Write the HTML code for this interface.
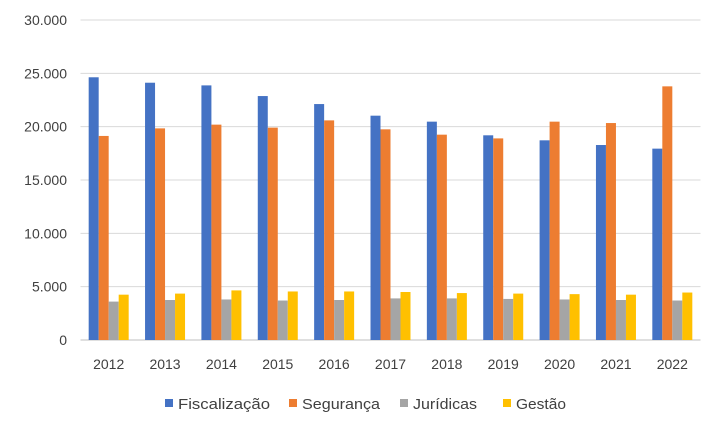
<!DOCTYPE html>
<html><head><meta charset="utf-8"><style>
body{margin:0;background:#fff;}
svg{display:block;font-family:"Liberation Sans",sans-serif;}
</style></head><body>
<svg id="chart" width="709" height="426"></svg>
<script>
const years=["2012","2013","2014","2015","2016","2017","2018","2019","2020","2021","2022"];
const fiscalizacao=[24630,24120,23870,22870,22120,21030,20470,19190,18720,18280,17940];
const seguranca=[19130,19840,20190,19910,20590,19750,19250,18900,20470,20340,23780];
const juridicas=[3600,3750,3800,3700,3750,3900,3900,3850,3800,3750,3700];
const gestao=[4250,4350,4650,4550,4550,4500,4400,4350,4300,4250,4450];
const yTicks=[0,5000,10000,15000,20000,25000,30000];
const yTickLabels=["0","5.000","10.000","15.000","20.000","25.000","30.000"];
const seriesNames=["Fiscalização","Segurança","Jurídicas","Gestão"];
const colors=["#4472C4","#ED7D31","#A5A5A5","#FFC000"];
const svg=document.getElementById('chart');
const NS="http://www.w3.org/2000/svg";
const x0=80.5,x1=700.5,yBase=340,yTop=20,yMax=30000;
const y=v=>yBase-(v/yMax)*(yBase-yTop);
const step=(x1-x0)/years.length;
const xc=i=>x0+step*(i+0.5);
function mk(t,a){const e=document.createElementNS(NS,t);for(const k in a)e.setAttribute(k,a[k]);svg.appendChild(e);return e;}
yTicks.forEach((t,i)=>{
 const g=mk('line',{x1:x0,x2:x1,y1:y(t),y2:y(t),stroke:i===0?'#bfbfbf':'#d9d9d9','stroke-width':1});
 
 
 const l=mk('text',{x:67,y:y(t)+5,'text-anchor':'end','font-size':14,fill:'#404040'});
 l.textContent=yTickLabels[i];
 
 
});
const series=[fiscalizacao,seguranca,juridicas,gestao];
const bw=10;
years.forEach((yr,i)=>{
 series.forEach((s,j)=>{
  const bx=xc(i)-2*bw+j*bw;
  const r=mk('rect',{x:bx,y:y(s[i]),width:bw,height:yBase-y(s[i]),fill:colors[j]});
  
  
 });
 const t=mk('text',{x:xc(i),y:369,'text-anchor':'middle','font-size':14,fill:'#404040'});
 t.textContent=yr;
 
 
});
const legX=[165,289,400,503];
const legW=[92,78,64,50];
seriesNames.forEach((n,j)=>{
 const r=mk('rect',{x:legX[j],y:399,width:8,height:8,fill:colors[j]});
 
 
 const t=mk('text',{x:legX[j]+13,y:409,'font-size':15,fill:'#404040',textLength:legW[j],lengthAdjust:'spacingAndGlyphs'});
 t.textContent=n;
 
 
});
</script>
</body></html>
